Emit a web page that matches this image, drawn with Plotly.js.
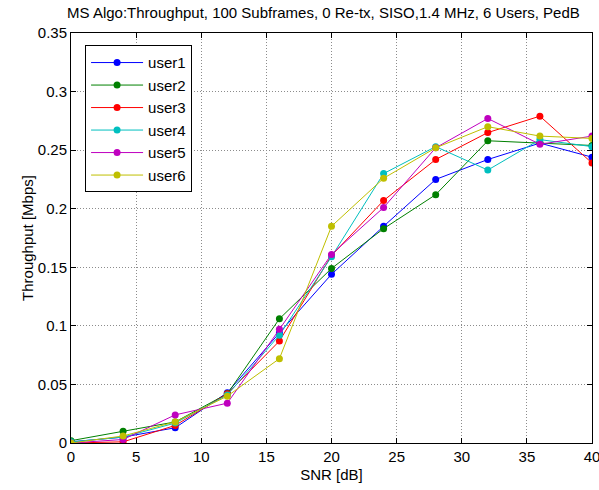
<!DOCTYPE html>
<html>
<head>
<meta charset="utf-8">
<script src="https://cdn.plot.ly/plotly-3.0.1.min.js"></script>
<style>body{margin:0;padding:0;background:#fff}#chart{width:599px;height:490px}</style>
</head>
<body>
<div id="chart"></div>
<script>
var snr = [0, 4, 8, 12, 16, 20, 24, 28, 32, 36, 40];
var user1 = [0.001, 0.005, 0.013, 0.043, 0.094, 0.144, 0.185, 0.225, 0.242, 0.256, 0.244];
var user2 = [0.002, 0.010, 0.018, 0.042, 0.106, 0.149, 0.183, 0.212, 0.258, 0.256, 0.254];
var user3 = [0.000, 0.001, 0.015, 0.042, 0.087, 0.160, 0.207, 0.242, 0.265, 0.279, 0.239];
var user4 = [0.001, 0.005, 0.017, 0.041, 0.092, 0.159, 0.230, 0.253, 0.233, 0.259, 0.253];
var user5 = [0.000, 0.003, 0.024, 0.034, 0.097, 0.161, 0.201, 0.252, 0.277, 0.255, 0.262];
var user6 = [0.000, 0.006, 0.018, 0.040, 0.072, 0.185, 0.226, 0.252, 0.270, 0.262, 0.260];
var names = ['user1', 'user2', 'user3', 'user4', 'user5', 'user6'];
var colors = ['#0000ff', '#008000', '#ff0000', '#00bfbf', '#bf00bf', '#bfbf00'];
var series = [user1, user2, user3, user4, user5, user6];

var traces = series.map(function (s, i) {
  return {
    x: snr, y: s, name: names[i], type: 'scatter', mode: 'lines+markers',
    line: {color: colors[i], width: 1},
    marker: {color: colors[i], size: 7, symbol: 'circle'}
  };
});

var FONT = 'Liberation Sans, Arial, sans-serif';
var axisCommon = {
  showline: true, linecolor: '#000', linewidth: 1, mirror: 'ticks',
  ticks: 'inside', ticklen: 5, tickcolor: '#000',
  showgrid: true, gridcolor: '#8c8c8c', griddash: '1px,2px', gridwidth: 1,
  zeroline: false, ticklabeloverflow: 'allow',
  tickfont: {family: FONT, size: 15, color: '#000'}
};

var layout = {
  width: 599, height: 490,
  margin: {l: 71, r: 7, t: 33, b: 47},
  paper_bgcolor: '#fff', plot_bgcolor: '#fff',
  font: {family: FONT, size: 15, color: '#000'},
  title: {text: 'MS Algo:Throughput, 100 Subframes, 0 Re-tx, SISO,1.4 MHz, 6 Users, PedB',
          x: 0.54, xanchor: 'center', y: 0.974, yanchor: 'middle',
          font: {family: FONT, size: 15, color: '#000'}},
  xaxis: Object.assign({}, axisCommon, {
    range: [0, 40], tickvals: [0, 5, 10, 15, 20, 25, 30, 35, 40],
    title: {text: 'SNR [dB]', standoff: 5, font: {family: FONT, size: 15}}
  }),
  yaxis: Object.assign({}, axisCommon, {
    range: [0, 0.35], tickvals: [0, 0.05, 0.1, 0.15, 0.2, 0.25, 0.3, 0.35],
    ticktext: ['0', '0.05', '0.1', '0.15', '0.2', '0.25', '0.3', '0.35'],
    title: {text: 'Throughput [Mbps]', standoff: 0, font: {family: FONT, size: 15}}
  }),
  showlegend: true,
  legend: {
    x: 0.027, y: 0.97, xanchor: 'left', yanchor: 'top',
    bgcolor: '#fff', bordercolor: '#000', borderwidth: 1,
    font: {family: FONT, size: 15, color: '#000'},
    itemwidth: 52, tracegroupgap: 0
  }
};

Plotly.newPlot('chart', traces, layout, {displayModeBar: false, staticPlot: true});
</script>
</body>
</html>
